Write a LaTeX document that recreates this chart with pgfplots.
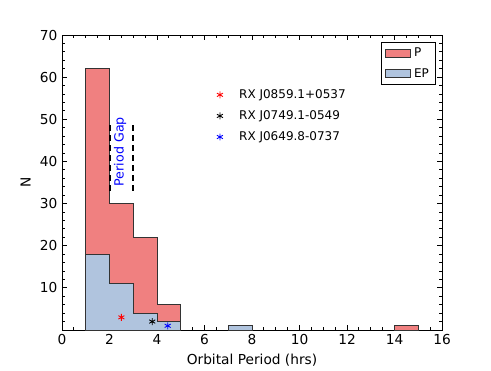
\documentclass[border=0pt]{standalone}
\usepackage{pgfplots}
\pgfplotsset{compat=1.18}
\usepackage{fontspec}
\setmainfont{DejaVu Sans}
\definecolor{pcol}{HTML}{F08080}
\definecolor{epcol}{HTML}{B0C4DE}
\definecolor{edge}{HTML}{333333}
\newcommand{\fs}{\fontsize{10.3}{12}\selectfont}
\newcommand{\fl}{\fontsize{9}{11}\selectfont}

\begin{document}
\begin{tikzpicture}
  % full canvas, 0.75pt per pixel of the 491x368 reference
  \path (0,0) rectangle (368.25pt,276pt);
  \begin{axis}[
    at={(46.5pt,28.5pt)}, anchor=south west,
    scale only axis, width=285pt, height=221.25pt,
    xmin=0, xmax=16, ymin=0, ymax=70,
    xtick={0,2,...,16}, ytick={10,20,...,70},
    minor xtick={0,0.5,...,16}, minor ytick={0,2,...,70},
    tick align=inside,
    major tick length=3.8pt, minor tick length=1.9pt,
    tick style={black, line width=0.6pt},
    axis line style={black, line width=0.75pt},
    /pgf/number format/assume math mode=true,
    tick label style={font=\fs},
    label style={font=\fs},
    xlabel={Orbital Period (hrs)}, ylabel={N},
    legend style={at={(0.984,0.976)}, anchor=north east, font=\fl,
      draw=black, line width=0.6pt, inner xsep=3pt, inner ysep=2pt,
      row sep=3.5pt},
    legend cell align=left,
    legend image code/.code={\draw[#1] (0pt,-3pt) rectangle (19pt,3pt);},
    star/.style={only marks, mark=asterisk, mark size=2.6pt,
      mark options={line width=0.65pt}, forget plot},
  ]
    % P histogram (step filled)
    \addplot[fill=pcol, draw=edge, line width=0.75pt] coordinates {
      (1,0) (1,62) (2,62) (2,30) (3,30) (3,22) (4,22) (4,6) (5,6) (5,0)} -- cycle;
    \addlegendentry{P}
    % EP histogram
    \addplot[fill=epcol, draw=edge, line width=0.75pt] coordinates {
      (1,0) (1,18) (2,18) (2,11) (3,11) (3,4) (4,4) (4,2) (5,2) (5,0)} -- cycle;
    \addlegendentry{EP}
    \addplot[fill=pcol, draw=edge, line width=0.75pt, forget plot] coordinates {
      (14,0) (14,1) (15,1) (15,0)} -- cycle;
    \addplot[fill=epcol, draw=edge, line width=0.75pt, forget plot] coordinates {
      (7,0) (7,1) (8,1) (8,0)} -- cycle;

    % individual systems
    \addplot[star, red] coordinates {(2.5,3)};
    \addplot[star, black] coordinates {(3.8,2)};
    \addplot[star, blue] coordinates {(4.45,1)};

    % labels for the systems
    \addplot[star, red] coordinates {(6.65,55.8)};
    \addplot[star, black] coordinates {(6.65,50.8)};
    \addplot[star, blue] coordinates {(6.65,45.8)};
    \node[anchor=west, font=\fl, inner sep=0pt] at (axis cs:7.45,55.8) {RX J0859.1+0537};
    \node[anchor=west, font=\fl, inner sep=0pt] at (axis cs:7.45,50.8) {RX J0749.1-0549};
    \node[anchor=west, font=\fl, inner sep=0pt] at (axis cs:7.45,45.8) {RX J0649.8-0737};

    % period gap
    \addplot[black, line width=1.5pt, dash pattern=on 4.5pt off 3pt, forget plot]
      coordinates {(2,33) (2,49)};
    \addplot[black, line width=1.5pt, dash pattern=on 4.5pt off 3pt, forget plot]
      coordinates {(3,33) (3,49)};
    \node[rotate=90, text=blue, font=\fontsize{9.5}{11}\selectfont] at (axis cs:2.45,42.3) {Period Gap};
  \end{axis}
\end{tikzpicture}
\end{document}
